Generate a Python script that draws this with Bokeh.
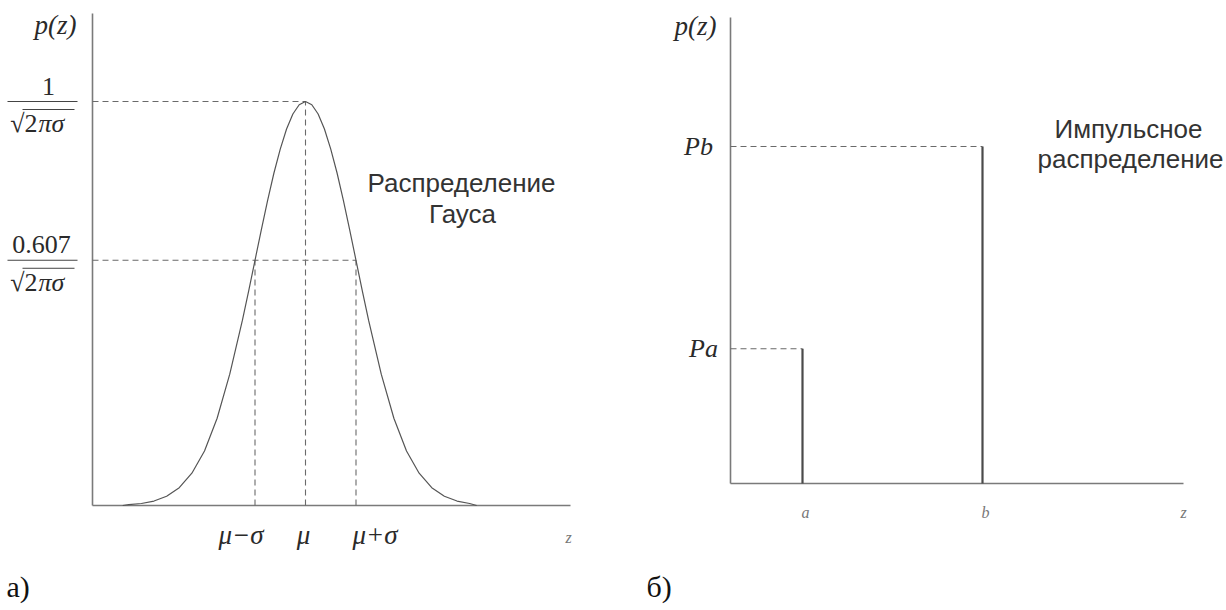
from bokeh.plotting import figure
from bokeh.models import Range1d
from bokeh.layouts import row
from bokeh.embed import file_html
from bokeh.resources import INLINE
from bokeh.core.properties import value

# ---------------- data: panel a) Gaussian distribution ----------------
mu = 0.0
sigma = 1.0
gauss_z = [-3.62, -3.5, -3.25, -3.0, -2.75, -2.5, -2.25, -2.0, -1.75, -1.5, -1.25,
           -1.125, -1.0, -0.875, -0.75, -0.625, -0.5, -0.375, -0.25, -0.125, 0.0,
           0.125, 0.25, 0.375, 0.5, 0.625, 0.75, 0.875, 1.0, 1.125, 1.25,
           1.5, 1.75, 2.0, 2.25, 2.5, 2.75, 3.0, 3.25, 3.39]
gauss_p = [0.0, 0.002, 0.005, 0.011, 0.023, 0.044, 0.080, 0.135, 0.216, 0.325, 0.458,
           0.531, 0.607, 0.682, 0.755, 0.823, 0.882, 0.932, 0.969, 0.992, 1.0,
           0.992, 0.969, 0.932, 0.882, 0.823, 0.755, 0.682, 0.607, 0.531, 0.458,
           0.325, 0.216, 0.135, 0.080, 0.044, 0.023, 0.011, 0.005, 0.0]
level_names = ["1", "0.607"]
level_values = [1.0, 0.607]
z_ticks = [mu - sigma, mu, mu + sigma]
z_tick_labels = ["μ−σ", "μ", "μ+σ"]

# ---------------- data: panel б) impulse distribution ----------------
impulse_z = [2.0, 7.0]
impulse_p = [0.4, 1.0]
impulse_z_labels = ["a", "b"]
impulse_p_labels = ["Pa", "Pb"]

# ---------------- layout helpers (reference-pixel -> data) ----------------
W_L, W_R, H = 621, 605, 606


def lx(px):
    return (px - 305.0) / 50.5


def ly(py):
    return (505.0 - py) / 404.0


def rx(px):
    return (px - 730.0) / 36.0


def ry(py):
    return (483.0 - py) / 337.0


AX = "#7a7a7a"
DASH = "#6a6a6a"
TXT = "#2a2a2a"
SERIF = "Liberation Serif"
SANS = "Liberation Sans"


def make_fig(w, xr, yr):
    p = figure(width=w, height=H, x_range=Range1d(*xr), y_range=Range1d(*yr),
               output_backend="svg", toolbar_location=None, min_border=0)
    p.axis.visible = False
    p.grid.visible = False
    p.outline_line_color = None
    p.background_fill_color = "white"
    p.border_fill_color = "white"
    return p


def txt(p, x, y, s, size, font=SERIF, style="normal", color=TXT, align="center",
        baseline="middle"):
    p.text(x=[x], y=[y], text=[s], text_font=value(font), text_font_size=f"{size}px",
           text_font_style=style, text_color=color, text_align=align,
           text_baseline=baseline)


# ======================= panel a) =======================
pa = make_fig(W_L, (lx(0), lx(621)), (ly(606), ly(0)))
x_org = lx(92)
x_end = lx(570)
y_top = ly(13)

# axes
pa.segment(x0=[x_org, x_org], y0=[0, 0], x1=[x_org, x_end], y1=[y_top, 0],
           line_color=AX, line_width=1.6)

# dashed guides
peak = max(gauss_p)
lvl = level_values[1]
pa.segment(x0=[x_org, x_org], y0=[peak, lvl], x1=[mu, mu + sigma], y1=[peak, lvl],
           line_color=DASH, line_width=1.1, line_dash="6 4")
pa.segment(x0=[mu - sigma, mu, mu + sigma], y0=[0, 0, 0],
           x1=[mu - sigma, mu, mu + sigma], y1=[lvl, peak, lvl],
           line_color=DASH, line_width=1.1, line_dash="6 4")

# gaussian curve
pa.line(gauss_z, gauss_p, line_color="#555555", line_width=1.2)

# y labels (fractions)
txt(pa, lx(55), ly(24), "p(z)", 27, style="italic")
for name, lv, num_off, num_x in zip(level_names, level_values, [15, 16], [48, 41]):
    txt(pa, lx(num_x), lv + (num_off / 404.0), name, 26)
    pa.segment(x0=[lx(7)], y0=[lv], x1=[lx(77)], y1=[lv], line_color="#444444",
               line_width=1.2)
    yd = lv - 22 / 404.0
    txt(pa, lx(37), yd, "√2", 26, align="right")
    txt(pa, lx(38), yd, "πσ", 26, style="italic", align="left")
    pa.segment(x0=[lx(22)], y0=[lv - 8 / 404.0], x1=[lx(74)], y1=[lv - 8 / 404.0],
               line_color="#444444", line_width=1.0)

# x tick labels
for zt, lab, off in zip(z_ticks, z_tick_labels, [-14, -2, 19]):
    txt(pa, zt + off / 50.5, ly(534), lab, 27, style="italic")
txt(pa, lx(568), ly(537), "z", 16, style="italic", color="#777777")

# caption
txt(pa, lx(461), ly(182), "Распределение", 26, font=SANS, color="#333333")
txt(pa, lx(462), ly(213), "Гауса", 26, font=SANS, color="#333333")
txt(pa, lx(6), ly(586), "а)", 30, align="left", color="#111111")

# ======================= panel б) =======================
pb = make_fig(W_R, (rx(621), rx(1226)), (ry(606), ry(0)))
r_end = rx(1183)
r_top = ry(17)
pb.segment(x0=[0, 0], y0=[0, 0], x1=[0, r_end], y1=[r_top, 0],
           line_color=AX, line_width=1.6)

# dashed guides
pb.segment(x0=[0] * len(impulse_z), y0=impulse_p, x1=impulse_z, y1=impulse_p,
           line_color=DASH, line_width=1.1, line_dash="6 4")
# impulses
pb.segment(x0=impulse_z, y0=[0] * len(impulse_z), x1=impulse_z, y1=impulse_p,
           line_color="#4a4a4a", line_width=2.2)

txt(pb, rx(695), ry(25), "p(z)", 27, style="italic")
for pv, lab, off in zip(impulse_p, impulse_p_labels, [-27, -32]):
    txt(pb, rx(730 + off), pv, lab, 26, style="italic")
for zv, lab in zip(impulse_z, impulse_z_labels):
    txt(pb, zv + 3 / 36.0, ry(512), lab, 16, style="italic", color="#777777")
txt(pb, rx(1183), ry(512), "z", 16, style="italic", color="#777777")

txt(pb, rx(1128), ry(128), "Импульсное", 26, font=SANS, color="#333333")
txt(pb, rx(1130), ry(158), "распределение", 26, font=SANS, color="#333333")
txt(pb, rx(646), ry(586), "б)", 30, align="left", color="#111111")

layout = row(pa, pb)
open("out.html", "w").write(file_html(layout, INLINE))
